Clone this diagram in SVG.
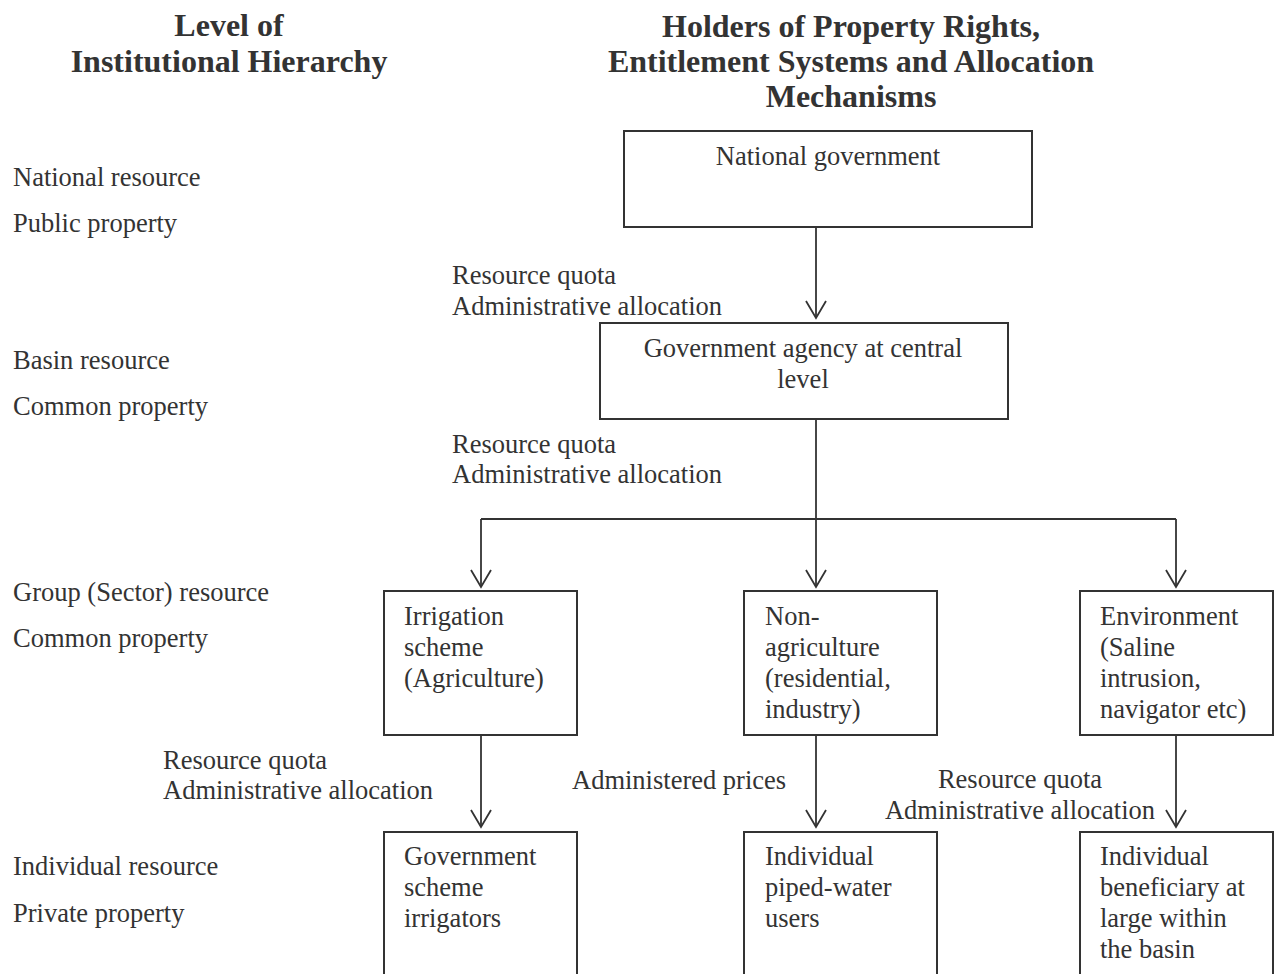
<svg xmlns="http://www.w3.org/2000/svg" width="1279" height="974" viewBox="0 0 1279 974">
<style>
text{font-family:"Liberation Serif","Times New Roman",serif;font-size:26.5px;fill:#333}
.title{font-size:32px;font-weight:bold}
.box{fill:#fff;stroke:#333;stroke-width:2}
.conn{fill:none;stroke:#333;stroke-width:1.8}
.c{text-anchor:middle}
</style>
<defs>
<marker id="arr" viewBox="0 0 20 22" refX="18" refY="11" markerWidth="20" markerHeight="22" markerUnits="userSpaceOnUse" orient="auto">
<path d="M1,1 L18,11 L1,21" fill="none" stroke="#333" stroke-width="1.8"/>
</marker>
</defs>
<rect width="1279" height="974" fill="#fff"/>
<g id="titles">
<text class="title c" x="229" y="36">Level of</text>
<text class="title c" x="229" y="72">Institutional Hierarchy</text>
<text class="title c" x="851" y="37">Holders of Property Rights,</text>
<text class="title c" x="851" y="72">Entitlement Systems and Allocation</text>
<text class="title c" x="851" y="107">Mechanisms</text>
</g>
<g id="levels">
<text x="13" y="186">National resource</text>
<text x="13" y="232">Public property</text>
<text x="13" y="369">Basin resource</text>
<text x="13" y="415">Common property</text>
<text x="13" y="601">Group (Sector) resource</text>
<text x="13" y="647">Common property</text>
<text x="13" y="875">Individual resource</text>
<text x="13" y="922">Private property</text>
</g>
<g id="connectors">
<path class="conn" d="M816,227 V318" marker-end="url(#arr)"/>
<path class="conn" d="M816,419 V587" marker-end="url(#arr)"/>
<path class="conn" d="M481,519 H1176"/>
<path class="conn" d="M481,519 V587" marker-end="url(#arr)"/>
<path class="conn" d="M1176,519 V587" marker-end="url(#arr)"/>
<path class="conn" d="M481,735 V827" marker-end="url(#arr)"/>
<path class="conn" d="M816,735 V827" marker-end="url(#arr)"/>
<path class="conn" d="M1176,735 V827" marker-end="url(#arr)"/>
</g>
<g id="connector-labels">
<text x="452" y="284">Resource quota</text>
<text x="452" y="315">Administrative allocation</text>
<text x="452" y="453">Resource quota</text>
<text x="452" y="483">Administrative allocation</text>
<text x="163" y="769">Resource quota</text>
<text x="163" y="799">Administrative allocation</text>
<text x="572" y="789">Administered prices</text>
<text class="c" x="1020" y="788">Resource quota</text>
<text class="c" x="1020" y="819">Administrative allocation</text>
</g>
<g id="national-government">
<rect class="box" x="624" y="131" width="408" height="96"/>
<text class="c" x="828" y="165">National government</text>
</g>
<g id="government-agency">
<rect class="box" x="600" y="323" width="408" height="96"/>
<text class="c" x="803" y="357">Government agency at central</text>
<text class="c" x="803" y="388">level</text>
</g>
<g id="irrigation-scheme">
<rect class="box" x="384" y="591" width="193" height="144"/>
<text x="404" y="625">Irrigation</text>
<text x="404" y="656">scheme</text>
<text x="404" y="687">(Agriculture)</text>
</g>
<g id="non-agriculture">
<rect class="box" x="744" y="591" width="193" height="144"/>
<text x="765" y="625">Non-</text>
<text x="765" y="656">agriculture</text>
<text x="765" y="687">(residential,</text>
<text x="765" y="718">industry)</text>
</g>
<g id="environment">
<rect class="box" x="1080" y="591" width="193" height="144"/>
<text x="1100" y="625">Environment</text>
<text x="1100" y="656">(Saline</text>
<text x="1100" y="687">intrusion,</text>
<text x="1100" y="718">navigator etc)</text>
</g>
<g id="scheme-irrigators">
<rect class="box" x="384" y="832" width="193" height="160"/>
<text x="404" y="865">Government</text>
<text x="404" y="896">scheme</text>
<text x="404" y="927">irrigators</text>
</g>
<g id="piped-water-users">
<rect class="box" x="744" y="832" width="193" height="160"/>
<text x="765" y="865">Individual</text>
<text x="765" y="896">piped-water</text>
<text x="765" y="927">users</text>
</g>
<g id="individual-beneficiary">
<rect class="box" x="1080" y="832" width="193" height="160"/>
<text x="1100" y="865">Individual</text>
<text x="1100" y="896">beneficiary at</text>
<text x="1100" y="927">large within</text>
<text x="1100" y="958">the basin</text>
</g>
</svg>
